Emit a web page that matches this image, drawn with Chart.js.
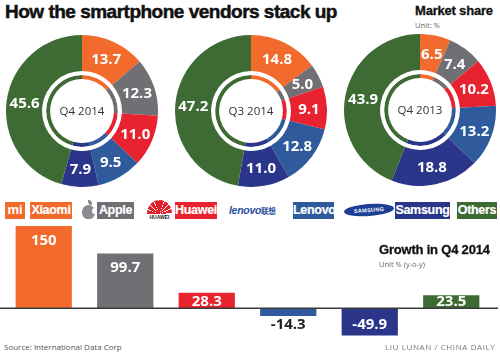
<!DOCTYPE html>
<html>
<head>
<meta charset="utf-8">
<script src="https://cdn.jsdelivr.net/npm/chart.js@4"></script>
<style>
  body { margin: 0; background: #fff; }
  #wrap { position: relative; width: 500px; height: 353px; overflow: hidden; font-family: "Liberation Sans", Arial, sans-serif; }
  canvas { position: absolute; }
  .txt { position: absolute; white-space: nowrap; }
  .title { left: 5px; top: 1px; font-size: 19px; font-weight: bold; letter-spacing: -0.5px; -webkit-text-stroke: 0.5px #111; color: #111; }
  .head { font-size: 13px; font-weight: bold; color: #111; letter-spacing: -0.2px; -webkit-text-stroke: 0.3px #111; }
  .unit { font-family: "Open Sans", sans-serif; font-size: 7.5px; color: #666; }
  .box { position: absolute; top: 202px; height: 17px; line-height: 17px; text-align: center; color: #fff; font-weight: bold; font-size: 12.5px; letter-spacing: -0.3px; -webkit-text-stroke: 0.2px #fff; }
  .foot { font-family: "Open Sans", sans-serif; font-size: 8px; color: #555; top: 341px; }
</style>
</head>
<body>
<div id="wrap">
  <div class="txt title">How the smartphone vendors stack up</div>
  <div class="txt head" style="left:415px; top:3px;">Market share</div>
  <div class="txt unit" style="left:415px; top:20px;">Unit: %</div>

  <canvas id="d1" width="152" height="152" style="left:6px; top:35px;"></canvas>
  <canvas id="d2" width="152" height="152" style="left:175px; top:35px;"></canvas>
  <canvas id="d3" width="152" height="152" style="left:344px; top:34px;"></canvas>

  <!-- legend row -->
  <div style="position:absolute; left:5px; top:202px; width:20px; height:17px; background:#f26b2c; color:#fff; font:bold 13px 'Liberation Sans'; line-height:16px; text-align:center;">mi</div>
  <div class="box" style="left:30px; width:42px; background:#f26b2c;">Xiaomi</div>

  <div style="position:absolute; left:82px; top:205px; width:13px; height:14px; background:#8a8b8e; border-radius:50% 50% 45% 45%;"></div>
  <div style="position:absolute; left:92px; top:208px; width:5px; height:6px; background:#fff; border-radius:50%;"></div>
  <div style="position:absolute; left:88px; top:200px; width:4px; height:5px; background:#8a8b8e; border-radius:0 80% 0 80%;"></div>
  <div class="box" style="left:97px; width:37px; background:#707074;">Apple</div>

  <div style="position:absolute; left:147px; top:200px; width:25px; height:14px; border-radius:13px 13px 0 0 / 14px 14px 0 0; background:repeating-conic-gradient(from -90deg at 50% 100%, #e31f2a 0deg 18deg, #fff 18deg 22.5deg);"></div>
  <div class="txt" style="left:146px; top:214px; width:27px; text-align:center; font:bold 5px 'Liberation Sans'; color:#222;">HUAWEI</div>
  <div class="box" style="left:175px; width:42px; background:#e92230;">Huawei</div>

  <div class="txt" style="left:229px; top:204px; font:italic bold 10.5px 'Liberation Sans'; color:#2a4fa0; letter-spacing:-0.3px;">lenovo<span style="font:bold 7.5px 'Noto Sans CJK SC'; font-style:normal;">联想</span></div>
  <div class="box" style="left:293px; width:41px; background:#2f5b9c;">Lenovo</div>

  <div style="position:absolute; left:344px; top:204px; width:50px; height:12px; border-radius:50%; background:#1c3f95; transform:rotate(-4deg); color:#fff; font:bold 5.5px 'Liberation Sans'; line-height:12px; text-align:center; letter-spacing:0.3px;">SAMSUNG</div>
  <div class="box" style="left:395px; width:55px; background:#2b3589;">Samsung</div>

  <div class="box" style="left:457px; width:40px; background:#3e6b33;">Others</div>

  <canvas id="bars" width="500" height="115" style="left:0; top:226px;"></canvas>

  <div class="txt head" style="left:379px; top:242px;">Growth in Q4 2014</div>
  <div class="txt unit" style="left:379px; top:259px;">Unit % (y-o-y)</div>

  <div class="txt foot" style="left:4px;">Source: International Data Corp</div>
  <div class="txt foot" style="left:385px; letter-spacing:0.6px; color:#777;">LIU LUNAN / CHINA DAILY</div>
</div>

<script>
const vendors = ['Xiaomi', 'Apple', 'Huawei', 'Lenovo', 'Samsung', 'Others'];
const periods = ['Q4 2014', 'Q3 2014', 'Q4 2013'];
const shareQ42014 = [13.7, 12.3, 11.0, 9.5, 7.9, 45.6];
const shareQ32014 = [14.8, 5.0, 9.1, 12.8, 11.0, 47.2];
const shareQ42013 = [6.5, 7.4, 10.2, 13.2, 18.8, 43.9];
const growthQ42014 = [150, 99.7, 28.3, -14.3, -49.9, 23.5];

const colors = ['#f26b2c', '#707074', '#e92230', '#2f5b9c', '#2b3589', '#3e6b33'];

const fmt = (v) => Number.isInteger(v) && Math.abs(v) >= 100 ? String(v) : v.toFixed(1);

// slice labels + center period text
const donutText = {
  id: 'donutText',
  afterDatasetsDraw(chart) {
    const ctx = chart.ctx;
    const meta = chart.getDatasetMeta(0);
    ctx.save();
    ctx.fillStyle = '#fff';
    ctx.font = 'bold 15px "Open Sans"';
    ctx.textAlign = 'center';
    ctx.textBaseline = 'middle';
    meta.data.forEach((arc, i) => {
      const p = arc.getCenterPoint();
      ctx.fillText(fmt(chart.data.datasets[0].data[i]), p.x, p.y + 1);
    });
    const ca = chart.chartArea;
    ctx.fillStyle = '#333';
    ctx.font = '11.5px "Open Sans"';
    ctx.fillText(chart.options.plugins.centerLabel, (ca.left + ca.right) / 2, (ca.top + ca.bottom) / 2 + 1);
    ctx.restore();
  }
};

const makeDonut = (id, period, values) => {
  new Chart(document.getElementById(id), {
    type: 'doughnut',
    data: {
      labels: vendors,
      datasets: [
        { data: values, backgroundColor: colors, borderWidth: 0, weight: 36 },
        { data: [1], backgroundColor: ['#fff'], borderWidth: 0, weight: 4 },
        { data: values, backgroundColor: colors, borderWidth: 0, weight: 4 },
      ]
    },
    options: {
      responsive: false,
      animation: false,
      cutout: '42%',
      layout: { padding: 0 },
      plugins: {
        legend: { display: false },
        tooltip: { enabled: false },
        centerLabel: period,
      }
    },
    plugins: [donutText]
  });
};

makeDonut('d1', periods[0], shareQ42014);
makeDonut('d2', periods[1], shareQ32014);
makeDonut('d3', periods[2], shareQ42013);

// bar values + zero line
const barText = {
  id: 'barText',
  afterDatasetsDraw(chart) {
    const ctx = chart.ctx;
    const zero = chart.scales.y.getPixelForValue(0);
    ctx.save();
    ctx.strokeStyle = '#3a3a3a';
    ctx.lineWidth = 1.5;
    ctx.beginPath();
    ctx.moveTo(0, zero);
    ctx.lineTo(498, zero);
    ctx.stroke();

    ctx.font = 'bold 15px "Open Sans"';
    ctx.textAlign = 'center';
    ctx.textBaseline = 'middle';
    chart.getDatasetMeta(0).data.forEach((bar, i) => {
      const v = chart.data.datasets[0].data[i];
      let y, col = '#fff';
      if (v >= 0) {
        y = Math.min(bar.y + 14.5, zero - 6);
      } else {
        y = zero + 17;
        if (Math.abs(bar.y - zero) < 16) col = '#222';
      }
      ctx.fillStyle = col;
      ctx.fillText(fmt(v), bar.x, y);
    });
    ctx.restore();
  }
};

new Chart(document.getElementById('bars'), {
  type: 'bar',
  data: {
    labels: vendors,
    datasets: [{
      data: growthQ42014,
      backgroundColor: colors,
      borderWidth: 0,
      barPercentage: 0.69,
      categoryPercentage: 1,
    }]
  },
  options: {
    responsive: false,
    animation: false,
    layout: { padding: { left: 3, right: 8, top: 0, bottom: 0 } },
    scales: {
      x: { display: false },
      y: { display: false, min: -60, max: 150 }
    },
    plugins: {
      legend: { display: false },
      tooltip: { enabled: false }
    }
  },
  plugins: [barText]
});
</script>
</body>
</html>
